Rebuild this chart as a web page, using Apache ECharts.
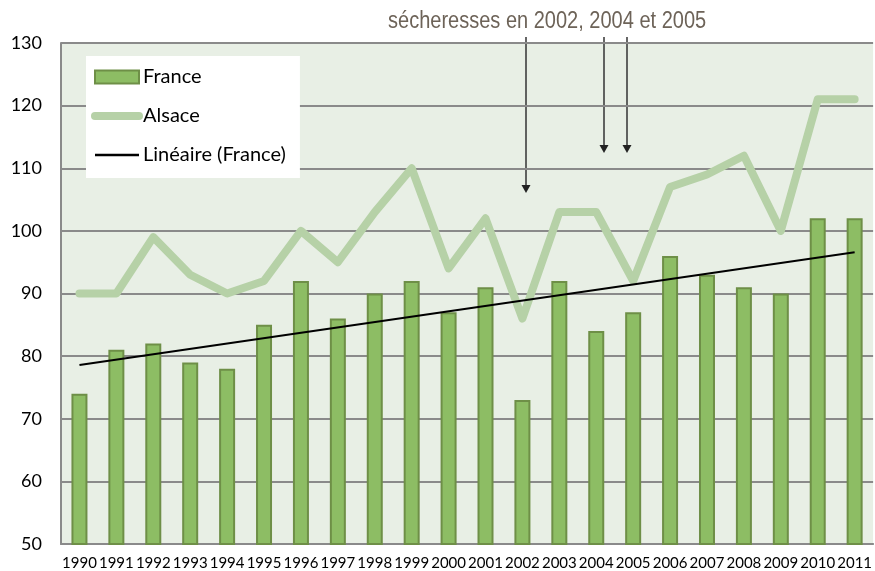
<!DOCTYPE html>
<html>
<head>
<meta charset="utf-8">
<script src="https://cdn.jsdelivr.net/npm/echarts@6/dist/echarts.min.js"></script>
<style>
  html, body { margin: 0; padding: 0; background: #fff; }
  #chart { width: 875px; height: 571px; }
</style>
</head>
<body>
<div id="chart"></div>
<script>
// années
const years = ['1990', '1991', '1992', '1993', '1994', '1995', '1996', '1997', '1998', '1999', '2000',
  '2001', '2002', '2003', '2004', '2005', '2006', '2007', '2008', '2009', '2010', '2011'];
// valeurs France (barres)
const france = [74, 81, 82, 79, 78, 85, 92, 86, 90, 92, 87, 91, 73, 92, 84, 87, 96, 93, 91, 90, 102, 102];
// valeurs Alsace (ligne)
const alsace = [90, 90, 99, 93, 90, 92, 100, 95, 103, 110, 94, 102, 86, 103, 103, 92, 107, 109, 112, 100, 121, 121];
// tendance linéaire (France), extrémités
const trendEnds = [78.6, 96.6];
const yTicks = { min: 50, max: 130, step: 10 };

const trend = years.map((y, i) => i === 0 ? trendEnds[0] : (i === years.length - 1 ? trendEnds[1] : null));

const chart = echarts.init(document.getElementById('chart'));
const baseFont = 'Lato, "Open Sans", sans-serif';
const gridColor = '#8a8a8a';

// flèches "sécheresses"
function arrow(x, y1, y2) {
  return {
    type: 'group',
    children: [
      { type: 'line', shape: { x1: x, y1: y1, x2: x, y2: y2 - 4 }, style: { stroke: '#333', lineWidth: 1.5 } },
      { type: 'polygon', shape: { points: [[x - 4.5, y2 - 8], [x + 4.5, y2 - 8], [x, y2]] }, style: { fill: '#222' } }
    ]
  };
}

let option = {
  animation: false,
  textStyle: { fontFamily: baseFont },
  grid: {
    left: 61, right: 0, top: 43, bottom: 27,
    show: true, backgroundColor: '#e8efe5', borderWidth: 0
  },
  legend: {
    orient: 'vertical',
    left: 86, top: 56,
    backgroundColor: '#fff',
    padding: [11, 14, 13, 5],
    itemGap: 19,
    itemWidth: 44,
    itemHeight: 13,
    textStyle: { fontFamily: baseFont, fontSize: 20, color: '#000', padding: [0, 0, 0, -1] },
    data: [
      { name: 'France', icon: 'rect' },
      { name: 'Alsace', itemStyle: { opacity: 0 }, lineStyle: { width: 8, cap: 'round', color: '#b6d1a7' } },
      { name: 'Linéaire (France)', itemStyle: { opacity: 0 }, lineStyle: { width: 2.5, color: '#000' } }
    ]
  },
  xAxis: {
    type: 'category',
    data: years,
    boundaryGap: true,
    axisLine: { lineStyle: { color: gridColor, width: 2 } },
    axisTick: { show: false },
    axisLabel: { interval: 0, fontSize: 15, color: '#000', margin: 12, fontFamily: baseFont }
  },
  yAxis: {
    type: 'value',
    min: yTicks.min, max: yTicks.max, interval: yTicks.step,
    axisLine: { show: true, lineStyle: { color: gridColor, width: 2 } },
    axisTick: { show: false },
    axisLabel: { fontSize: 18, color: '#000', margin: 19, fontFamily: baseFont },
    splitLine: { lineStyle: { color: gridColor, width: 2 } }
  },
  series: [
    {
      name: 'France',
      type: 'bar',
      barWidth: 16,
      itemStyle: { color: '#8dbd64', borderColor: '#6e8f47', borderWidth: 2 },
      data: france,
      z: 2
    },
    {
      name: 'Alsace',
      type: 'line',
      symbol: 'none',
      lineStyle: { color: '#b6d1a7', width: 8, cap: 'round', join: 'round' },
      itemStyle: { color: '#b6d1a7' },
      data: alsace,
      z: 3
    },
    {
      name: 'Linéaire (France)',
      type: 'line',
      symbol: 'none',
      connectNulls: true,
      lineStyle: { color: '#000', width: 2 },
      itemStyle: { color: '#000' },
      data: trend,
      z: 4
    }
  ],
  graphic: [
    {
      type: 'text',
      x: 388, y: 10,
      scaleX: 0.87,
      style: {
        text: 'sécheresses en 2002, 2004 et 2005',
        fontFamily: '"Liberation Sans", Arial, sans-serif',
        fontSize: 23,
        fill: '#6d6358'
      }
    },
    arrow(526, 37, 193),
    arrow(604, 37, 153),
    arrow(627, 37, 153)
  ]
};
chart.setOption(option);
</script>
</body>
</html>
